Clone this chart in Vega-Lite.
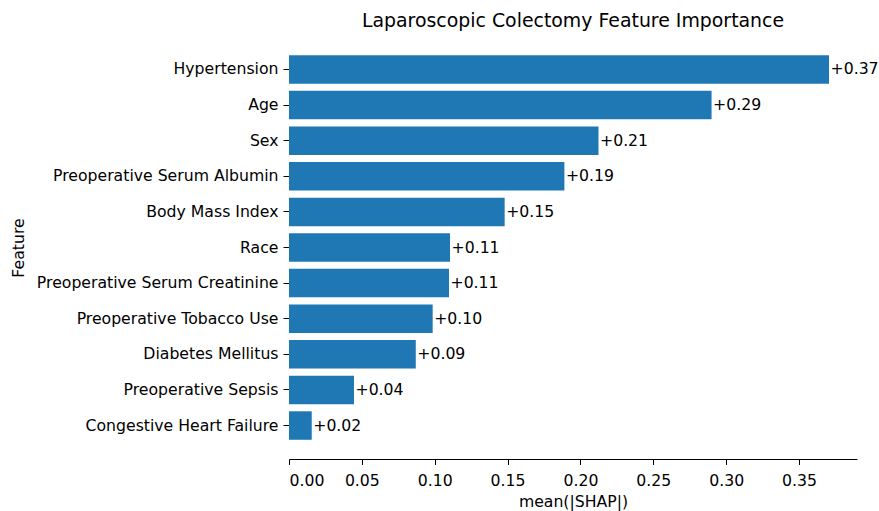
{
  "$schema": "https://vega.github.io/schema/vega-lite/v6.json",
  "width": 568,
  "height": 423,
  "autosize": {"type": "none"},
  "padding": {"left": 289, "top": 36, "right": 22, "bottom": 52},
  "background": "white",
  "config": {
    "font": "DejaVu Sans",
    "view": {"stroke": null},
    "axis": {"labelFont": "DejaVu Sans", "titleFont": "DejaVu Sans", "labelColor": "#000000", "titleColor": "#000000", "tickColor": "#000000", "domainColor": "#000000", "grid": false, "labelFontSize": 15.7, "titleFontSize": 15.7, "titleFontWeight": "normal", "labelLimit": 400}
  },
  "title": {"text": "Laparoscopic Colectomy Feature Importance", "fontSize": 18.9, "fontWeight": "normal", "font": "DejaVu Sans", "color": "#000000", "offset": 5, "anchor": "middle"},
  "data": {
    "values": [
      {"feature": "Hypertension", "value": 0.3706},
      {"feature": "Age", "value": 0.290},
      {"feature": "Sex", "value": 0.2124},
      {"feature": "Preoperative Serum Albumin", "value": 0.189},
      {"feature": "Body Mass Index", "value": 0.148},
      {"feature": "Race", "value": 0.1105},
      {"feature": "Preoperative Serum Creatinine", "value": 0.1098},
      {"feature": "Preoperative Tobacco Use", "value": 0.0986},
      {"feature": "Diabetes Mellitus", "value": 0.087},
      {"feature": "Preoperative Sepsis", "value": 0.0446},
      {"feature": "Congestive Heart Failure", "value": 0.0156}
    ]
  },
  "encoding": {
    "y": {"field": "feature", "type": "nominal", "sort": null, "title": "Feature",
      "scale": {"paddingInner": 0.2, "paddingOuter": 0.54},
      "axis": {"domain": false, "tickSize": 6, "labelPadding": 5, "titleX": -271, "titleY": 211.5, "titleAngle": -90, "titleAlign": "center", "titleBaseline": "middle"}},
    "x": {"field": "value", "type": "quantitative", "title": "mean(|SHAP|)",
      "scale": {"domain": [0, 0.3898], "nice": false, "zero": true},
      "axis": {"values": [0, 0.05, 0.1, 0.15, 0.2, 0.25, 0.3, 0.35], "format": ".2f", "tickSize": 5.5, "labelPadding": 9, "titlePadding": 6}}
  },
  "layer": [
    {"mark": {"type": "bar", "color": "#1f77b4"}},
    {"mark": {"type": "text", "align": "left", "baseline": "middle", "dx": 1.5, "fontSize": 15.7, "color": "#000000"},
      "encoding": {"text": {"field": "value", "type": "quantitative", "format": "+.2f"}}}
  ]
}
